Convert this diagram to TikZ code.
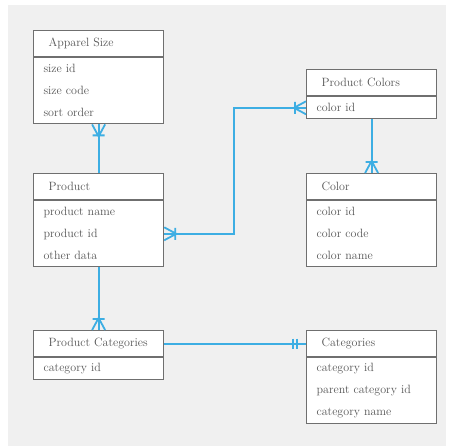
\documentclass[tikz,border=0pt]{standalone}
\usepackage{tikz}
\definecolor{relblue}{HTML}{3DAEE3}
\definecolor{boxgray}{HTML}{6F6F6F}
\definecolor{textgray}{HTML}{555555}
\definecolor{bggray}{HTML}{F0F0F0}
\pgfdeclarearrow{
        name = crowfoot,
        setup code = {
                \pgfarrowssettipend{0pt}
                \pgfarrowssetlineend{0pt}
                \pgfarrowssetbackend{-12pt}
                \pgfarrowshullpoint{0pt}{6.5pt}
                \pgfarrowshullpoint{0pt}{-6.5pt}
                \pgfarrowshullpoint{-12pt}{0pt}
        },
        drawing code = {
                \pgfpathmoveto{\pgfqpoint{0pt}{6.5pt}}
                \pgfpathlineto{\pgfqpoint{-12pt}{0pt}}
                \pgfpathmoveto{\pgfqpoint{0pt}{-6.5pt}}
                \pgfpathlineto{\pgfqpoint{-12pt}{0pt}}
                \pgfpathmoveto{\pgfqpoint{-11pt}{6pt}}
                \pgfpathlineto{\pgfqpoint{-11pt}{-6pt}}
                \pgfusepathqstroke
        }
}
\pgfdeclarearrow{
        name = onlyone,
        setup code = {
                \pgfarrowssettipend{0pt}
                \pgfarrowssetlineend{0pt}
                \pgfarrowssetbackend{-14pt}
                \pgfarrowshullpoint{-13pt}{5pt}
                \pgfarrowshullpoint{-13pt}{-5pt}
                \pgfarrowshullpoint{0pt}{0pt}
        },
        drawing code = {
                \pgfpathmoveto{\pgfqpoint{-13pt}{5pt}}
                \pgfpathlineto{\pgfqpoint{-13pt}{-5pt}}
                \pgfpathmoveto{\pgfqpoint{-9pt}{5pt}}
                \pgfpathlineto{\pgfqpoint{-9pt}{-5pt}}
                \pgfusepathqstroke
        }
}
\tikzstyle{entityhead}=[
        draw=boxgray,
        fill=white,
        line width=1.2pt,
        anchor=north west,
        minimum height=26pt,
        text width=100pt,
        inner xsep=15pt,
        inner ysep=0pt,
        align=left,
        text=textgray,
        font=\fontsize{12}{14}\selectfont
]
\tikzstyle{entitybody}=[
        draw=boxgray,
        fill=white,
        line width=1.2pt,
        anchor=north west,
        text width=110pt,
        inner xsep=10pt,
        inner ysep=0pt,
        align=left,
        text=textgray,
        font=\fontsize{12}{22}\selectfont
]
\tikzstyle{relation}=[
        draw=relblue,
        line width=1.8pt
]

\begin{document}
\begin{tikzpicture}[x=1pt,y=-1pt]
                        \useasboundingbox (0,0) rectangle (452,446);
                        \fill[bggray] (8,5) rectangle (446,446);

                        \node[entityhead] (appT) at (33,30) {Apparel Size};
                        \node[entitybody, minimum height=66pt] (appB) at (appT.south west) {size id\\size code\\sort order};

                        \node[entityhead] (prodT) at (33,173) {Product};
                        \node[entitybody, minimum height=66pt] (prodB) at (prodT.south west) {product name\\product id\\other data};

                        \node[entityhead] (pcatT) at (33,330) {Product Categories};
                        \node[entitybody, minimum height=22pt] (pcatB) at (pcatT.south west) {category id};

                        \node[entityhead] (colsT) at (306,69) {Product Colors};
                        \node[entitybody, minimum height=22pt] (colsB) at (colsT.south west) {color id};

                        \node[entityhead] (colorT) at (306,173) {Color};
                        \node[entitybody, minimum height=66pt] (colorB) at (colorT.south west) {color id\\color code\\color name};

                        \node[entityhead] (catsT) at (306,330) {Categories};
                        \node[entitybody, minimum height=66pt] (catsB) at (catsT.south west) {category id\\parent category id\\category name};

                        \coordinate (bend) at (234,0);

                        \draw[relation,-crowfoot] (prodT.north) -- (appB.south);
                        \draw[relation,crowfoot-crowfoot] (prodB.east) -- (prodB.east -| bend) |- (colsB.west);
                        \draw[relation,-crowfoot] (colsB.south) -- (colorT.north);
                        \draw[relation,-crowfoot] (prodB.south) -- (pcatT.north);
                        \draw[relation,-onlyone] (pcatT.east) -- (catsT.west);

                    \end{tikzpicture}
\end{document}
